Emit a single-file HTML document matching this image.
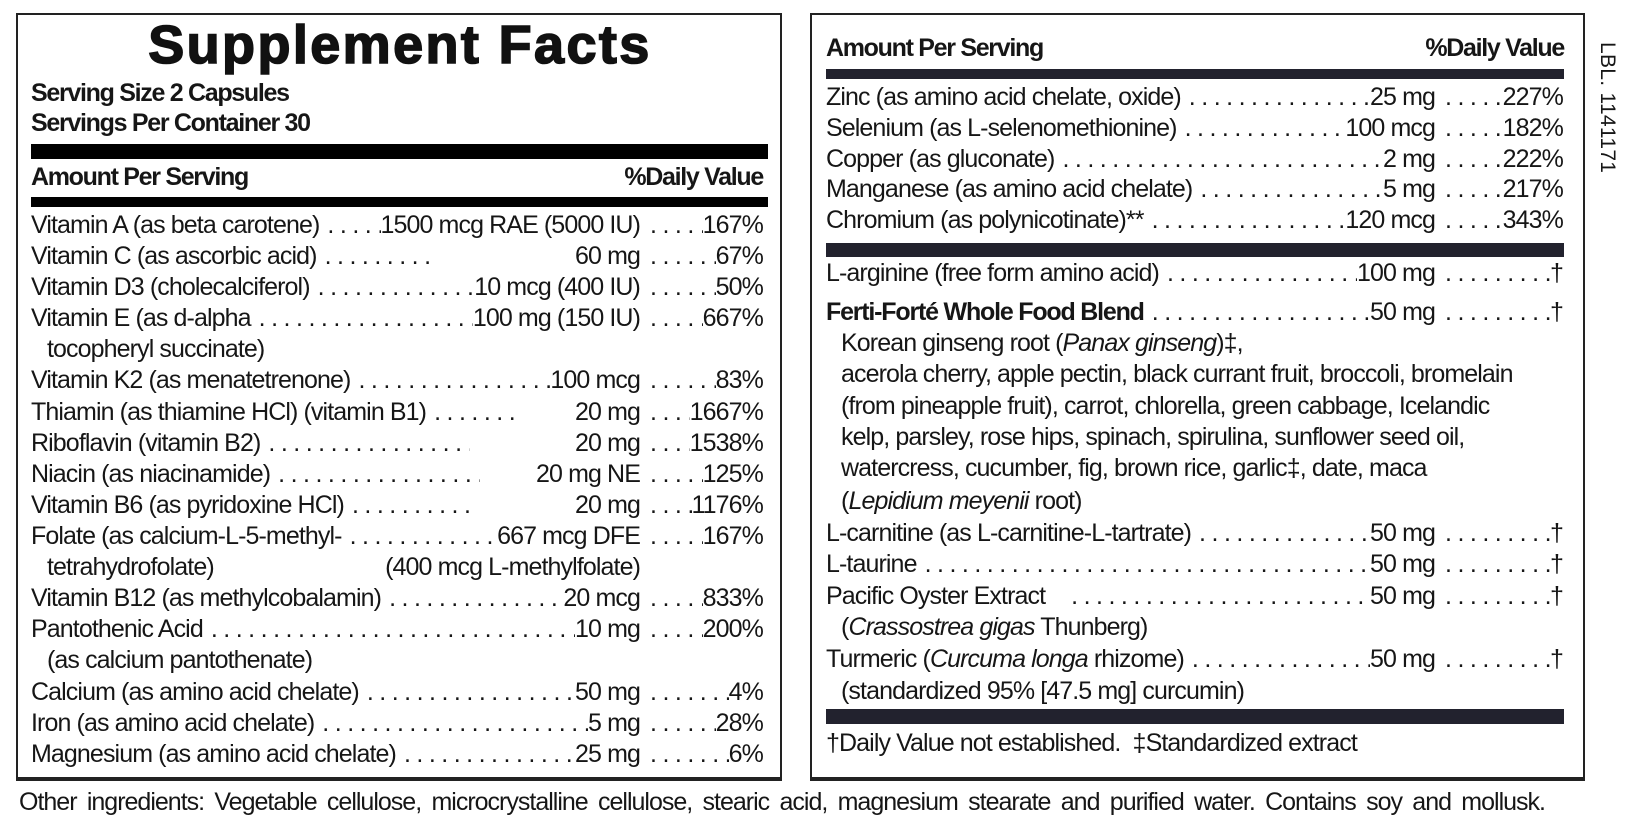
<!DOCTYPE html>
<html><head><meta charset="utf-8"><style>
*{margin:0;padding:0;box-sizing:border-box}
body{width:1628px;height:834px;background:#fff;position:relative;overflow:hidden;font-family:"Liberation Sans",Arial,sans-serif;color:#161616}
.box{position:absolute;border:2px solid #222;border-bottom:4px solid #222}
.bar{position:absolute}
.t{position:absolute;white-space:nowrap;font-size:25px;line-height:25px;letter-spacing:-0.9px}
.r{position:absolute;display:flex;white-space:nowrap;font-size:25px;line-height:25px;letter-spacing:-0.9px}
.r .n{flex:none}
.r .d{flex:1;min-width:0;overflow:hidden;letter-spacing:5.5px;padding:0 6px 0 8px;text-align:left}
.r .a{flex:none}
.r .p{flex:none;display:flex;justify-content:flex-end}
.r .p .d{padding:0 1px 0 10px}
.b{font-weight:bold}
i{font-style:italic}
</style></head><body>

<!-- LEFT BOX -->
<div class="box" style="left:16px;top:13px;width:766px;height:768px"></div>
<div class="t b" style="left:0;width:800px;text-align:center;top:18px;font-size:54px;line-height:54px;letter-spacing:2.4px;-webkit-text-stroke:1.6px #111;color:#111">Supplement Facts</div>
<div class="t b" style="left:31px;top:81px;letter-spacing:-1.3px">Serving Size 2 Capsules</div>
<div class="t b" style="left:31px;top:111px;letter-spacing:-1.3px">Servings Per Container 30</div>
<div class="bar" style="left:31px;top:144px;width:737px;height:15px;background:#000"></div>
<div class="t b" style="left:31px;top:165px;letter-spacing:-1.3px">Amount Per Serving</div>
<div class="t b" style="right:865px;top:165px;letter-spacing:-1.3px">%Daily Value</div>
<div class="bar" style="left:31px;top:197px;width:737px;height:10px;background:#000"></div>

<div class="r" style="left:31px;width:732px;top:213px"><span class="n">Vitamin A (as beta carotene)</span><span class="d">.......................</span><span class="a">1500 mcg RAE (5000 IU)</span><span class="p" style="width:123px"><span class="d">..........</span>167%</span></div>
<div class="r" style="left:31px;width:732px;top:244px"><span class="n">Vitamin C (as ascorbic acid)</span><span class="d" style="flex:none;width:120px">..........</span><span style="flex:1"></span><span class="a">60 mg</span><span class="p" style="width:123px"><span class="d">..........</span>67%</span></div>
<div class="r" style="left:31px;width:732px;top:275px"><span class="n">Vitamin D3 (cholecalciferol)</span><span class="d">.................................</span><span class="a">10 mcg (400 IU)</span><span class="p" style="width:123px"><span class="d">..........</span>50%</span></div>
<div class="r" style="left:31px;width:732px;top:306px"><span class="n">Vitamin E (as d-alpha</span><span class="d">.................................</span><span class="a">100 mg (150 IU)</span><span class="p" style="width:123px"><span class="d">..........</span>667%</span></div>
<div class="t" style="left:47px;top:337px">tocopheryl succinate)</div>
<div class="r" style="left:31px;width:732px;top:368px"><span class="n">Vitamin K2 (as menatetrenone)</span><span class="d">.................................</span><span class="a">100 mcg</span><span class="p" style="width:123px"><span class="d">..........</span>83%</span></div>
<div class="r" style="left:31px;width:732px;top:400px"><span class="n">Thiamin (as thiamine HCl) (vitamin B1)</span><span class="d" style="flex:none;width:95px">.......</span><span style="flex:1"></span><span class="a">20 mg</span><span class="p" style="width:123px"><span class="d">..........</span>1667%</span></div>
<div class="r" style="left:31px;width:732px;top:431px"><span class="n">Riboflavin (vitamin B2)</span><span class="d" style="flex:none;width:210px">.................</span><span style="flex:1"></span><span class="a">20 mg</span><span class="p" style="width:123px"><span class="d">..........</span>1538%</span></div>
<div class="r" style="left:31px;width:732px;top:462px"><span class="n">Niacin (as niacinamide)</span><span class="d" style="flex:none;width:210px">.................</span><span style="flex:1"></span><span class="a">20 mg NE</span><span class="p" style="width:123px"><span class="d">..........</span>125%</span></div>
<div class="r" style="left:31px;width:732px;top:493px"><span class="n">Vitamin B6 (as pyridoxine HCl)</span><span class="d" style="flex:none;width:135px">..........</span><span style="flex:1"></span><span class="a">20 mg</span><span class="p" style="width:123px"><span class="d">..........</span>1176%</span></div>
<div class="r" style="left:31px;width:732px;top:524px"><span class="n">Folate (as calcium-L-5-methyl-</span><span class="d">.................................</span><span class="a">667 mcg DFE</span><span class="p" style="width:123px"><span class="d">..........</span>167%</span></div>
<div class="t" style="left:47px;top:555px">tetrahydrofolate)</div>
<div class="t" style="right:988px;top:555px">(400 mcg L-methylfolate)</div>
<div class="r" style="left:31px;width:732px;top:586px"><span class="n">Vitamin B12 (as methylcobalamin)</span><span class="d">.................................</span><span class="a">20 mcg</span><span class="p" style="width:123px"><span class="d">..........</span>833%</span></div>
<div class="r" style="left:31px;width:732px;top:617px"><span class="n">Pantothenic Acid</span><span class="d">..........................................</span><span class="a">10 mg</span><span class="p" style="width:123px"><span class="d">..........</span>200%</span></div>
<div class="t" style="left:47px;top:648px">(as calcium pantothenate)</div>
<div class="r" style="left:31px;width:732px;top:680px"><span class="n">Calcium (as amino acid chelate)</span><span class="d">.................................</span><span class="a">50 mg</span><span class="p" style="width:123px"><span class="d">..........</span>4%</span></div>
<div class="r" style="left:31px;width:732px;top:711px"><span class="n">Iron (as amino acid chelate)</span><span class="d">.................................</span><span class="a">5 mg</span><span class="p" style="width:123px"><span class="d">..........</span>28%</span></div>
<div class="r" style="left:31px;width:732px;top:742px"><span class="n">Magnesium (as amino acid chelate)</span><span class="d">.................................</span><span class="a">25 mg</span><span class="p" style="width:123px"><span class="d">..........</span>6%</span></div>

<!-- RIGHT BOX -->
<div class="box" style="left:810px;top:13px;width:775px;height:768px"></div>
<div class="t b" style="left:826px;top:36px;letter-spacing:-1.3px">Amount Per Serving</div>
<div class="t b" style="right:64px;top:36px;letter-spacing:-1.3px">%Daily Value</div>
<div class="bar" style="left:826px;top:69px;width:738px;height:10px;background:#22222e"></div>

<div class="r" style="left:826px;width:737px;top:85px"><span class="n">Zinc (as amino acid chelate, oxide)</span><span class="d">..........................</span><span class="a">25 mg</span><span class="p" style="width:128px"><span class="d">.........</span>227%</span></div>
<div class="r" style="left:826px;width:737px;top:116px"><span class="n">Selenium (as L-selenomethionine)</span><span class="d">..........................</span><span class="a">100 mcg</span><span class="p" style="width:128px"><span class="d">.........</span>182%</span></div>
<div class="r" style="left:826px;width:737px;top:147px"><span class="n">Copper (as gluconate)</span><span class="d">.......................................</span><span class="a">2 mg</span><span class="p" style="width:128px"><span class="d">.........</span>222%</span></div>
<div class="r" style="left:826px;width:737px;top:177px"><span class="n">Manganese (as amino acid chelate)</span><span class="d">..........................</span><span class="a">5 mg</span><span class="p" style="width:128px"><span class="d">.........</span>217%</span></div>
<div class="r" style="left:826px;width:737px;top:208px"><span class="n">Chromium (as polynicotinate)**</span><span class="d">..........................</span><span class="a">120 mcg</span><span class="p" style="width:128px"><span class="d">.........</span>343%</span></div>
<div class="bar" style="left:826px;top:243px;width:738px;height:14px;background:#22222e"></div>

<div class="r" style="left:826px;width:737px;top:261px"><span class="n">L-arginine (free form amino acid)</span><span class="d">..........................</span><span class="a">100 mg</span><span class="p" style="width:128px"><span class="d">.........</span>†</span></div>
<div class="r" style="left:826px;width:737px;top:300px"><span class="n b" style="letter-spacing:-1.2px">Ferti-Forté Whole Food Blend</span><span class="d">..........................</span><span class="a">50 mg</span><span class="p" style="width:128px"><span class="d">.........</span>†</span></div>
<div class="t" style="left:841px;top:331px">Korean ginseng root (<i>Panax ginseng</i>)‡,</div>
<div class="t" style="left:841px;top:362px">acerola cherry, apple pectin, black currant fruit, broccoli, bromelain</div>
<div class="t" style="left:841px;top:394px">(from pineapple fruit), carrot, chlorella, green cabbage, Icelandic</div>
<div class="t" style="left:841px;top:425px">kelp, parsley, rose hips, spinach, spirulina, sunflower seed oil,</div>
<div class="t" style="left:841px;top:456px">watercress, cucumber, fig, brown rice, garlic‡, date, maca</div>
<div class="t" style="left:841px;top:489px">(<i>Lepidium meyenii</i> root)</div>
<div class="r" style="left:826px;width:737px;top:521px"><span class="n">L-carnitine (as L-carnitine-L-tartrate)</span><span class="d">..........................</span><span class="a">50 mg</span><span class="p" style="width:128px"><span class="d">.........</span>†</span></div>
<div class="r" style="left:826px;width:737px;top:552px"><span class="n">L-taurine</span><span class="d">....................................................</span><span class="a">50 mg</span><span class="p" style="width:128px"><span class="d">.........</span>†</span></div>
<div class="r" style="left:826px;width:737px;top:584px"><span class="n">Pacific Oyster Extract</span><span class="d" style="padding-left:26px">......................................</span><span class="a">50 mg</span><span class="p" style="width:128px"><span class="d">.........</span>†</span></div>
<div class="t" style="left:841px;top:615px">(<i>Crassostrea gigas</i> Thunberg)</div>
<div class="r" style="left:826px;width:737px;top:647px"><span class="n">Turmeric (<i>Curcuma longa</i> rhizome)</span><span class="d">..........................</span><span class="a">50 mg</span><span class="p" style="width:128px"><span class="d">.........</span>†</span></div>
<div class="t" style="left:841px;top:679px">(standardized 95% [47.5 mg] curcumin)</div>
<div class="bar" style="left:826px;top:709px;width:738px;height:15px;background:#22222e"></div>
<div class="t" style="left:826px;top:731px">†Daily Value not established.&nbsp; ‡Standardized extract</div>

<div class="t" style="left:1597px;top:42px;writing-mode:vertical-rl;font-size:21px;line-height:21px;letter-spacing:0.3px">LBL. 1141171</div>

<div class="t" style="left:19px;width:1526px;top:790px;text-align:justify;text-align-last:justify;letter-spacing:-1px">Other ingredients: Vegetable cellulose, microcrystalline cellulose, stearic acid, magnesium stearate and purified water. Contains soy and mollusk.</div>
</body></html>
